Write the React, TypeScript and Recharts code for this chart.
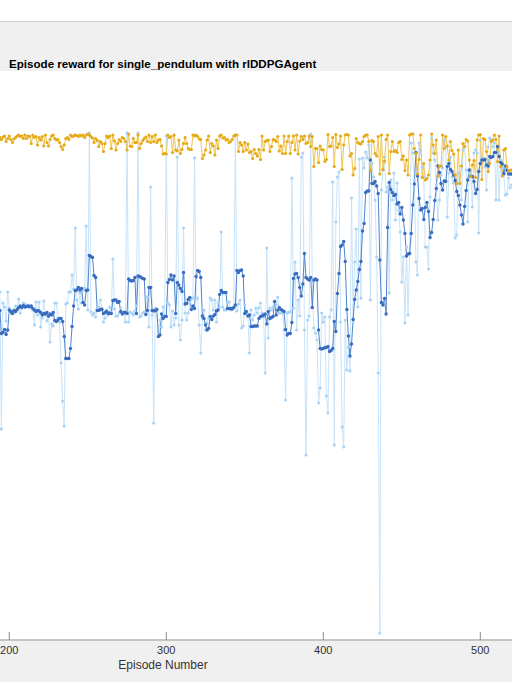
import React from "react";
import { LineChart, Line, XAxis, YAxis } from "recharts";

const FIRST_EPISODE = 194;
const xTicks = [200, 300, 400, 500];
const chartTitle = "Episode reward for single_pendulum with rlDDPGAgent";
const xLabel = "Episode Number";

const episodeReward = [
  -442, -716, -464, -472, -500, -442, -474, -484, -480, -484,
  -470, -478, -456, -484, -474, -464, -466, -472, -468, -474,
  -470, -478, -508, -462, -488, -462, -512, -494, -460, -488,
  -500, -492, -542, -506, -510, -464, -464, -494, -502, -584,
  -660, -710, -466, -464, -442, -442, -408, -436, -314, -458,
  -476, -444, -464, -438, -434, -310, -478, -124, -482, -488,
  -484, -492, -476, -472, -458, -474, -502,
  -494, -478, -488, -472, -482, -376, -476, -490, -490, -484,
  -474, -484, -482, -502, -124, -502, -482, -484, -488, -480,
  -470, -124, -492, -490, -484, -482, -484, -452, -512, -232,
  -488, -704, -474, -484, -528, -498, -512, -472, -490, -130,
  -464, -468, -512, -480, -508, -494, -172, -508, -538, -498,
  -314, -484, -498, -484, -464, -456, -454, -174, -456, -454,
  -508, -564, -494, -478, -518,
  -504, -494, -454, -458, -478, -458, -502, -464, -472, -322,
  -472, -478, -478, -464, -462, -478, -474, -472, -128, -480,
  -466, -458, -514, -510, -468, -482, -486, -564, -478, -498,
  -488, -474, -484, -474, -464, -484, -492, -604, -354, -534,
  -474, -478, -472, -462, -468, -452, -484, -484, -484, -518,
  -658, -484, -482, -482, -214, -474, -382, -518, -458, -490,
  -172, -164, -518,
  -768, -498, -490, -126, -422, -514, -524, -538, -664, -634,
  -484, -502, -492, -650, -684, -492, -478, -222, -748, -302,
  -212, -202, -502, -712, -752, -498, -598, -552, -600, -254,
  -502, -382, -316, -472, -176, -454, -174, -194, -162, -174,
  -148, -458, -184, -212, -258, -372, -604, -1124, -238, -198,
  -172, -242, -232, -444, -218, -258, -204, -298, -224, -278,
  -322, -422, -372, -504, -352, -488,
  -364, -144, -164, -218, -382, -408, -144, -158, -192, -212,
  -352, -352, -396, -252, -134, -164, -178, -228, -298, -258,
  -208, -194, -138, -152, -292, -204, -172, -212, -224, -334,
  -328, -204, -224, -258, -158, -152, -198, -302, -204, -202,
  -272, -164, -158, -164, -324, -138, -174, -174, -192, -238,
  -152, -134, -138, -152, -144, -258, -164, -258, -178, -194,
  -208, -248, -246, -214, -234, -228,
];

const averageReward = [
  -479, -525, -523, -517, -527, -518, -478, -481, -485, -479,
  -481, -477, -473, -470, -473, -469, -472, -471, -470, -471,
  -470, -475, -478, -481, -479, -480, -483, -488, -485, -486,
  -483, -490, -486, -488, -483, -499, -501, -498, -495, -495,
  -501, -531, -575, -575, -575, -555, -511, -470, -439, -438,
  -433, -438, -435, -463, -468, -439, -438, -369, -371, -373,
  -409, -413, -479, -479, -477, -477, -485,
  -483, -481, -485, -484, -485, -459, -458, -458, -463, -461,
  -481, -486, -483, -483, -485, -416, -419, -420, -419, -413,
  -485, -410, -411, -413, -415, -416, -487, -479, -433, -433,
  -479, -480, -479, -477, -531, -528, -486, -495, -491, -491,
  -423, -417, -408, -418, -410, -485, -423, -428, -435, -441,
  -403, -466, -465, -457, -453, -477, -470, -475, -411, -399,
  -401, -413, -490, -495, -508,
  -518, -515, -491, -497, -490, -487, -480, -478, -447, -439,
  -443, -443, -443, -475, -475, -475, -476, -473, -468, -399,
  -403, -399, -398, -410, -485, -481, -490, -488, -511, -511,
  -510, -510, -510, -495, -491, -490, -488, -486, -506, -481,
  -495, -493, -491, -461, -488, -478, -473, -477, -479, -481,
  -517, -528, -525, -525, -503, -415, -406, -405, -413, -433,
  -450, -426, -365,
  -413, -416, -418, -413, -473, -418, -416, -418, -518, -555,
  -556, -555, -553, -553, -551, -561, -559, -555, -501, -521,
  -445, -405, -351, -348, -341, -381, -477, -530, -570, -546,
  -497, -457, -438, -421, -397, -381, -320, -305, -243, -240,
  -240, -178, -225, -225, -221, -230, -245, -378, -463, -468,
  -455, -486, -313, -223, -237, -243, -249, -247, -266, -263,
  -286, -273, -298, -325, -370, -366,
  -365, -325, -268, -226, -163, -210, -255, -278, -275, -297,
  -273, -263, -281, -333, -323, -297, -259, -235, -190, -203,
  -225, -238, -220, -221, -191, -185, -197, -201, -208, -219,
  -241, -249, -268, -288, -306, -271, -239, -218, -198, -211,
  -211, -221, -245, -237, -201, -185, -178, -178, -177, -188,
  -190, -171, -173, -171, -163, -163, -151, -171, -183, -186,
  -205, -190, -199, -206, -206, -206,
];

const episodeQ0 = [
  -133, -137, -132, -130, -141, -135, -130, -137, -143, -136,
  -133, -130, -128, -131, -130, -135, -128, -135, -130, -131,
  -145, -128, -133, -131, -148, -133, -138, -131, -150, -128,
  -143, -150, -137, -130, -128, -135, -138, -137, -143, -151,
  -157, -148, -135, -133, -137, -128, -131, -130, -128, -129,
  -131, -128, -130, -128, -133, -128, -126, -128, -131, -134,
  -143, -135, -139, -151, -141, -145, -161,
  -145, -130, -133, -130, -155, -128, -140, -158, -145, -137,
  -141, -133, -135, -141, -158, -126, -150, -151, -135, -143,
  -143, -128, -155, -145, -139, -135, -132, -141, -128, -143,
  -131, -141, -128, -143, -138, -137, -150, -166, -165, -166,
  -128, -133, -131, -163, -128, -158, -160, -138, -165, -157,
  -145, -133, -145, -155, -157, -157, -128, -130, -128, -131,
  -136, -137, -175, -168, -158,
  -138, -130, -163, -145, -150, -168, -138, -155, -130, -128,
  -134, -133, -138, -137, -143, -141, -137, -130, -128, -128,
  -161, -143, -148, -161, -143, -158, -146, -163, -161, -175,
  -157, -165, -170, -157, -177, -130, -158, -141, -139, -138,
  -161, -151, -137, -138, -141, -131, -160, -150, -165, -130,
  -165, -141, -130, -165, -143, -130, -158, -128, -166, -140,
  -131, -137, -130,
  -145, -143, -130, -151, -131, -191, -155, -155, -183, -150,
  -157, -158, -181, -177, -127, -151, -150, -133, -191, -127,
  -153, -146, -130, -197, -148, -128, -127, -128, -170, -165,
  -208, -195, -135, -143, -145, -146, -141, -131, -128, -128,
  -141, -199, -139, -141, -165, -170, -131, -206, -128, -197,
  -180, -137, -128, -205, -161, -141, -161, -159, -163, -143,
  -141, -177, -170, -199, -178, -208,
  -128, -126, -126, -155, -165, -206, -177, -128, -213, -185,
  -218, -215, -208, -178, -126, -148, -165, -138, -210, -190,
  -190, -128, -155, -131, -150, -178, -141, -159, -166, -208,
  -225, -158, -225, -190, -145, -151, -137, -140, -178, -211,
  -188, -179, -213, -138, -128, -127, -217, -135, -137, -161,
  -201, -185, -141, -138, -128, -137, -181, -130, -191, -210,
  -158, -155, -191, -200, -198, -198,
];

const data = episodeReward.map((r, i) => ({
  episode: FIRST_EPISODE + i,
  reward: r,
  average: averageReward[i],
  q0: episodeQ0[i],
}));

const FONT = '"Liberation Sans", Arial, Helvetica, sans-serif';

export default function App() {
  return (
    <div
      style={{
        position: "absolute",
        left: 0,
        top: 0,
        width: 512,
        height: 682,
        background: "#ffffff",
        overflow: "hidden",
        fontFamily: FONT,
      }}
    >
      <div style={{ position: "absolute", left: 0, top: 21, width: 512, height: 1, background: "#d2d2d2" }} />
      <div style={{ position: "absolute", left: 0, top: 22, width: 512, height: 49, background: "#f0f0f0" }} />
      <div style={{ position: "absolute", left: 0, top: 641, width: 512, height: 41, background: "#f0f0f0" }} />
      <div style={{ position: "absolute", left: 0, top: 71 }}>
        <LineChart
          width={512}
          height={611}
          data={data}
          margin={{ top: 0, right: 0, bottom: 0, left: 0 }}
        >
          <XAxis
            dataKey="episode"
            type="number"
            domain={[194.1, 520.2]}
            allowDataOverflow
            ticks={xTicks}
            height={42}
            tickSize={-8}
            tickMargin={14}
            axisLine={{ stroke: "#8a8a8a" }}
            tickLine={{ stroke: "#8a8a8a" }}
            tick={{ fill: "#333333", fontSize: 11, fontFamily: FONT }}
            interval={0}
          />
          <YAxis type="number" domain={[-1138, 0]} allowDataOverflow hide />
          <Line
            type="linear"
            dataKey="reward"
            stroke="#c8e3f9"
            strokeWidth={1}
            dot={{ r: 1.6, fill: "#aad3f6", stroke: "none" }}
            activeDot={false}
            isAnimationActive={false}
          />
          <Line
            type="linear"
            dataKey="average"
            stroke="#4f84cd"
            strokeWidth={1}
            dot={{ r: 1.7, fill: "#386cbf", stroke: "none" }}
            activeDot={false}
            isAnimationActive={false}
          />
          <Line
            type="linear"
            dataKey="q0"
            stroke="#efc452"
            strokeWidth={1}
            dot={{ r: 1.6, fill: "#e5aa16", stroke: "none" }}
            activeDot={false}
            isAnimationActive={false}
          />
        </LineChart>
      </div>
      <svg
        width={512}
        height={682}
        style={{ position: "absolute", left: 0, top: 0, pointerEvents: "none" }}
      >
        <text x={9} y={68} fontFamily={FONT} fontSize={11.6} fontWeight="bold" fill="#000000">
          {chartTitle}
        </text>
        <text x={163} y={669} fontFamily={FONT} fontSize={12} textAnchor="middle" fill="#333333">
          {xLabel}
        </text>
      </svg>
    </div>
  );
}
